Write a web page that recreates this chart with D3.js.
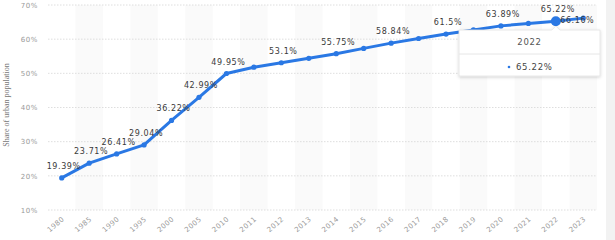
<!DOCTYPE html>
<html><head><meta charset="utf-8">
<script src="https://cdn.jsdelivr.net/npm/d3@7/dist/d3.min.js"></script>
<style>body{margin:0;background:#fff}svg{display:block}</style>
</head><body>
<svg id="c" width="615" height="240"></svg>
<script>
const years = ["1980","1985","1990","1995","2000","2005","2010","2011","2012","2013","2014","2015","2016","2017","2018","2019","2020","2021","2022","2023"];
const values = [19.39,23.71,26.41,29.04,36.22,42.99,49.95,51.8,53.1,54.4,55.75,57.3,58.84,60.2,61.5,62.7,63.89,64.6,65.22,66.16];
const labeled = ["1980","1985","1990","1995","2000","2005","2010","2012","2014","2016","2018","2020","2022","2023"];
const yTicks = [10,20,30,40,50,60,70];
const hoverYear = "2022";
const yTitle = "Share of urban population";

const svg = d3.select("#c");
const x = d3.scaleBand().domain(years).range([48, 597]);
const y = d3.scaleLinear().domain([10, 70]).range([210, 5]);
const cx = d => x(d) + x.bandwidth() / 2;

// alternating bands
svg.append("g").selectAll("rect").data(years.filter((d, i) => i % 2 === 1)).join("rect")
  .attr("x", d => x(d)).attr("width", x.bandwidth())
  .attr("y", y(70)).attr("height", y(10) - y(70)).attr("fill", "#fafafa");

// grid
svg.append("g").selectAll("line").data(yTicks).join("line")
  .attr("x1", 48).attr("x2", 597).attr("y1", d => y(d)).attr("y2", d => y(d))
  .attr("stroke", "#d6d6d6").attr("stroke-width", 0.8).attr("stroke-dasharray", "1.5,1.5");

// y axis
const ya = svg.append("g").attr("transform", "translate(38,0)")
  .call(d3.axisLeft(y).tickValues(yTicks).tickFormat(d => d + "%").tickSize(0).tickPadding(0));
ya.select(".domain").remove();
ya.selectAll("text").attr("fill", "#999").style("font-family", "DejaVu Sans").style("font-size", "7px").style("letter-spacing", "0.6px");

// x axis
const xa = svg.append("g").attr("transform", "translate(0,212)")
  .call(d3.axisBottom(x).tickSize(0).tickPadding(0));
xa.select(".domain").remove();
xa.selectAll("text").attr("fill", "#999").style("font-family", "DejaVu Sans").style("font-size", "7px")
  .style("letter-spacing", "0.4px")
  .attr("text-anchor", "end").attr("dy", "0").attr("transform", "translate(3,8) rotate(-40)");

// y title
svg.append("text").attr("transform", "translate(9,105) rotate(-90)").attr("text-anchor", "middle")
  .style("font-family", "Liberation Serif").style("font-size", "8px").attr("fill", "#777").text(yTitle);

// line
const data = years.map((d, i) => ({ year: d, v: values[i] }));
svg.append("path").datum(data)
  .attr("d", d3.line().x(d => cx(d.year)).y(d => y(d.v)))
  .attr("fill", "none").attr("stroke", "#2a78e4").attr("stroke-width", 3).attr("stroke-linejoin", "round");
svg.append("g").selectAll("circle").data(data).join("circle")
  .attr("cx", d => cx(d.year)).attr("cy", d => y(d.v))
  .attr("r", d => d.year === hoverYear ? 5 : 2.6).attr("fill", "#2a78e4");

// labels
svg.append("g").selectAll("text").data(data.filter(d => labeled.includes(d.year))).join("text")
  .attr("x", d => d.year === "2023" ? cx(d.year) - 6 : cx(d.year) + 2)
  .attr("y", d => d.year === "2023" ? y(d.v) + 5 : y(d.v) - 9)
  .attr("text-anchor", "middle").attr("fill", "#3a3a3a")
  .style("font-family", "DejaVu Sans").style("font-size", "8px").style("letter-spacing", "0.6px")
  .text(d => d.v + "%");

// right edge panel
svg.append("rect").attr("x", 606).attr("y", 0).attr("width", 9).attr("height", 240).attr("fill", "#f2f2f2");

// tooltip
const hv = data.find(d => d.year === hoverYear);
const defs = svg.append("defs");
const f = defs.append("filter").attr("id", "sh").attr("x", "-20%").attr("y", "-20%").attr("width", "140%").attr("height", "160%");
f.append("feDropShadow").attr("dx", 0).attr("dy", 1).attr("stdDeviation", 1.5).attr("flood-color", "#000").attr("flood-opacity", 0.18);
const tx = 459, ty = 30, tw = 141, th = 46;
const px = cx(hv.year);
const tip = svg.append("g").attr("filter", "url(#sh)");
tip.append("path")
  .attr("d", `M${tx},${ty} L${px - 4},${ty} L${px},${ty - 4} L${px + 4},${ty} L${tx + tw},${ty} L${tx + tw},${ty + th} L${tx},${ty + th} Z`)
  .attr("fill", "#fff").attr("stroke", "#e2e2e2").attr("stroke-width", 0.8);
svg.append("line").attr("x1", tx).attr("x2", tx + tw).attr("y1", ty + 24).attr("y2", ty + 24).attr("stroke", "#e6e6e6");
svg.append("text").attr("x", tx + tw / 2).attr("y", ty + 15).attr("text-anchor", "middle").attr("fill", "#555")
  .style("font-family", "DejaVu Sans").style("font-size", "8.5px").style("letter-spacing", "0.7px").text(hv.year);
svg.append("circle").attr("cx", 509).attr("cy", ty + 37).attr("r", 1.3).attr("fill", "#2a78e4");
svg.append("text").attr("x", 516).attr("y", ty + 40).attr("fill", "#444")
  .style("font-family", "DejaVu Sans").style("font-size", "8.5px").style("letter-spacing", "0.7px").text(hv.v + "%");
</script>
</body></html>
